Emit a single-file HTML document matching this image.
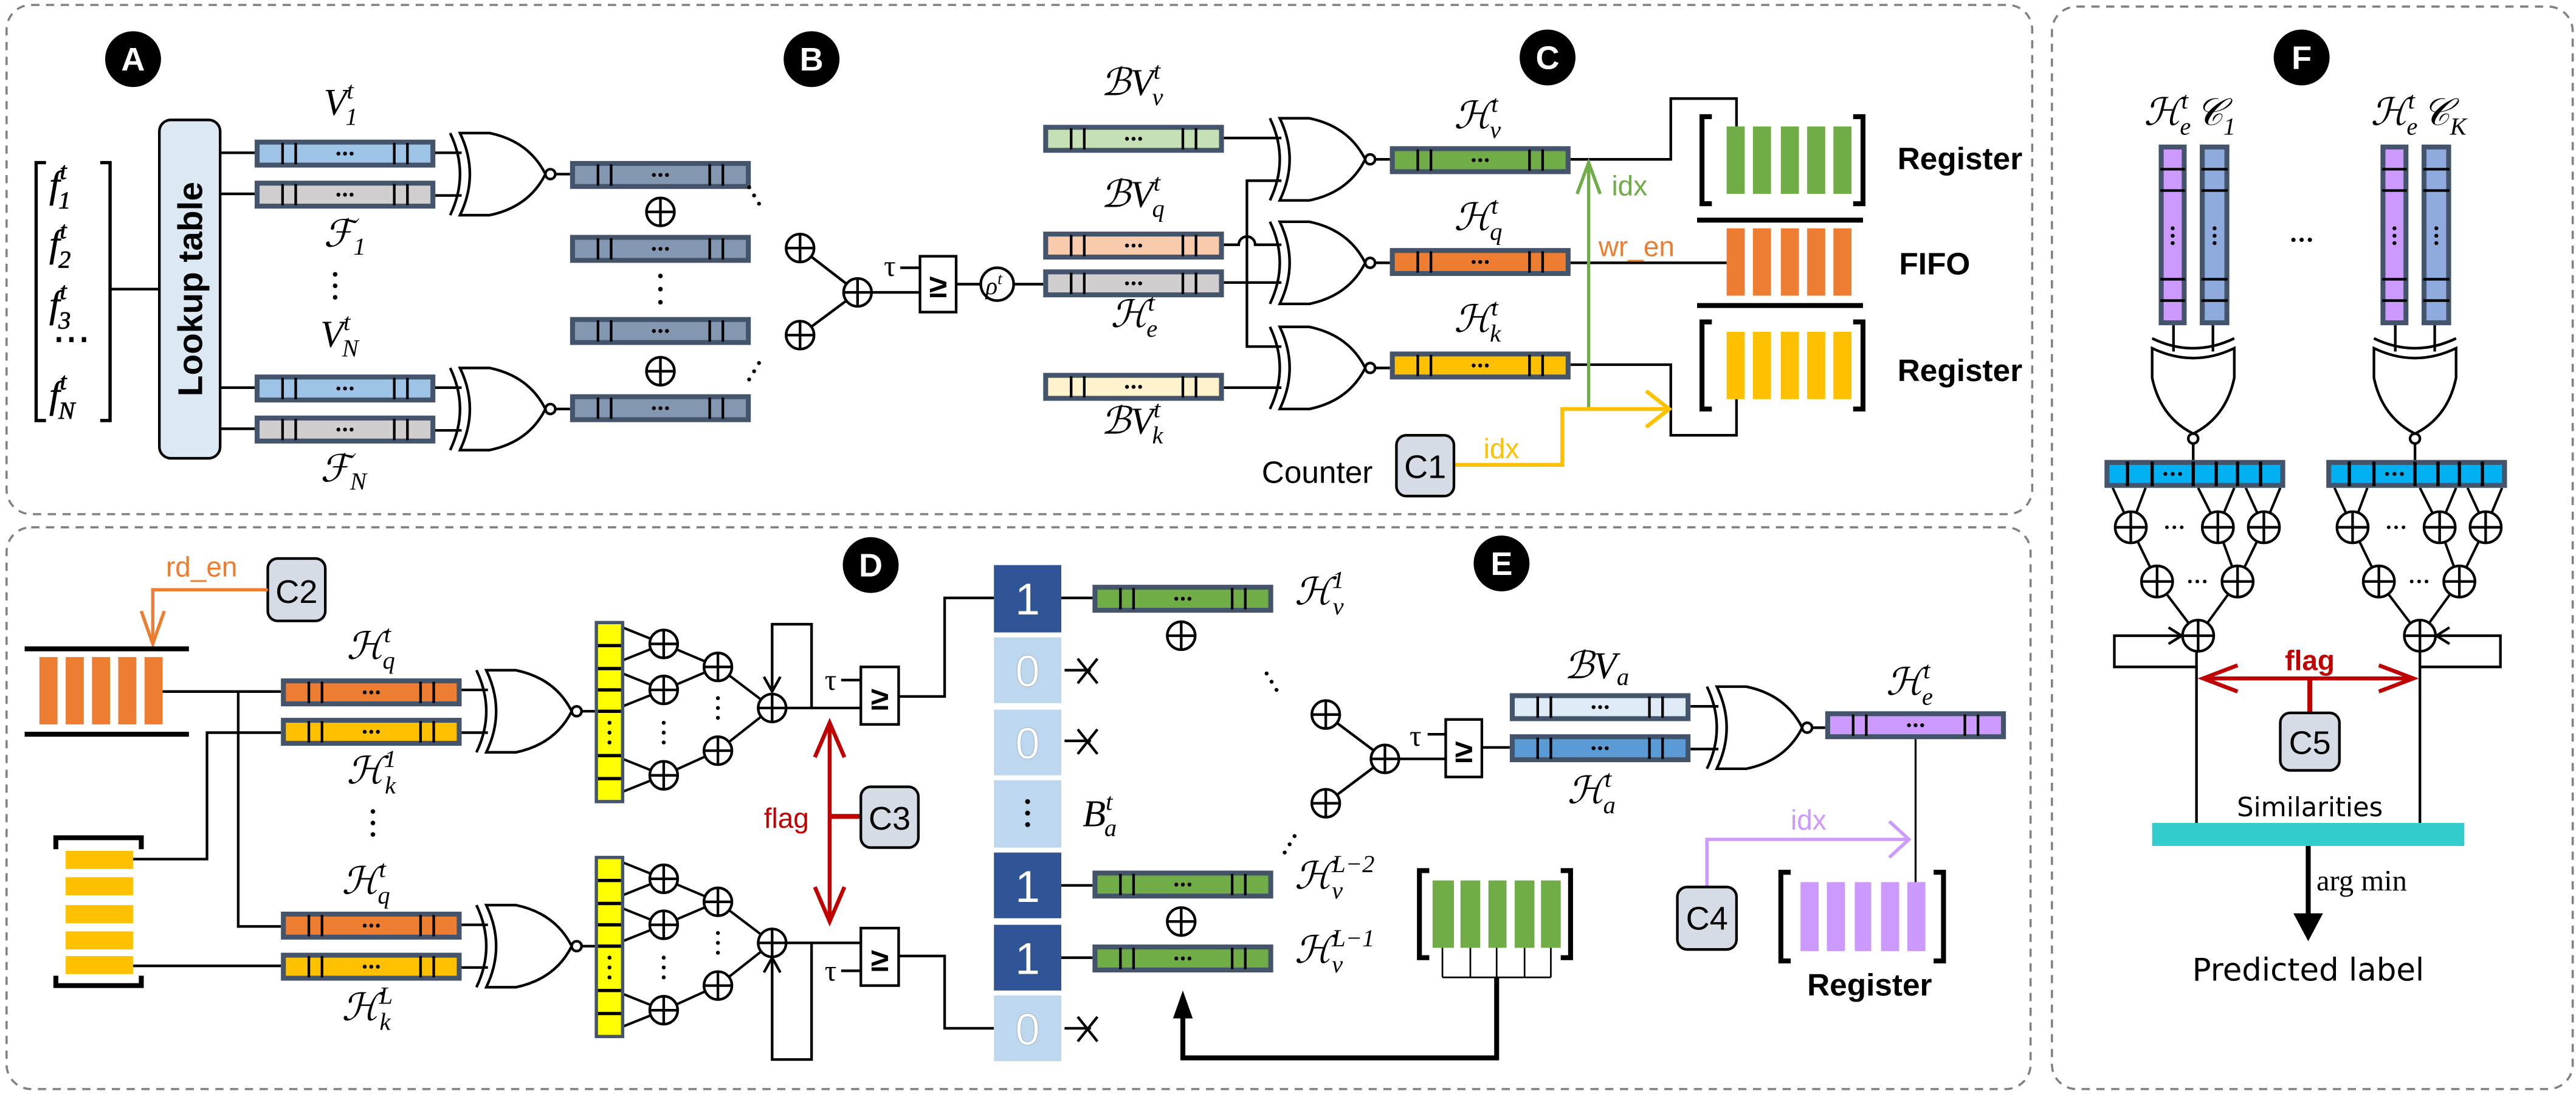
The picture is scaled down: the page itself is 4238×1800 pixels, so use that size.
<!DOCTYPE html>
<html><head><meta charset="utf-8">
<style>
html,body{margin:0;padding:0;background:#fff;}
svg{display:block;}
.m{font-family:"Liberation Serif","DejaVu Serif",serif;font-style:italic;font-size:23px;}
.m tspan{font-size:15px;}
.s{font-family:"Liberation Sans","DejaVu Sans",sans-serif;}
</style></head><body>
<svg width="4238" height="1800" viewBox="0 0 1568 666" preserveAspectRatio="none" xmlns="http://www.w3.org/2000/svg">
<defs>
<symbol id="bar" viewBox="0 0 110 17" width="110" height="17" overflow="visible">
<rect x="0" y="0" width="110" height="17" fill="#44546a"/>
<rect x="3" y="3" width="104" height="11"/>
<g stroke="#000" stroke-width="1.6"><line x1="17" y1="2" x2="17" y2="15"/><line x1="25" y1="2" x2="25" y2="15"/><line x1="85" y1="2" x2="85" y2="15"/><line x1="93" y1="2" x2="93" y2="15"/></g>
<g fill="#000"><circle cx="51" cy="8.5" r="1.2"/><circle cx="55" cy="8.5" r="1.2"/><circle cx="59" cy="8.5" r="1.2"/></g>
</symbol>
<g id="gate" stroke="#000" stroke-width="1.6">
<path d="M0,0 Q12,25 0,50" fill="none"/>
<path d="M6,0 L24,0 Q48,5 58,25 Q48,45 24,50 L6,50 Q18,25 6,0Z" fill="#fff"/>
<circle cx="61" cy="25" r="3" fill="#fff"/>
</g>
<g id="xo" stroke="#000" stroke-width="1.6"><circle r="8.5" fill="#fff"/><line x1="-8.5" y1="0" x2="8.5" y2="0"/><line x1="0" y1="-8.5" x2="0" y2="8.5"/></g>
<g id="xs" stroke="#000" stroke-width="1.6"><circle r="9.5" fill="#fff"/><line x1="-9.5" y1="0" x2="9.5" y2="0"/><line x1="0" y1="-9.5" x2="0" y2="9.5"/></g>
</defs>

<g fill="none" stroke="#808080" stroke-width="1.3" stroke-dasharray="5,4">
<rect x="4" y="3" width="1233" height="310" rx="15"/>
<rect x="4" y="321" width="1232" height="342" rx="15"/>
<rect x="1249" y="4" width="317" height="659" rx="15"/>
</g>

<g class="s" font-weight="bold" font-size="20" text-anchor="middle">
<circle cx="81" cy="36" r="17"/><text x="81" y="43" fill="#fff">A</text>
<circle cx="494" cy="36" r="17"/><text x="494" y="43" fill="#fff">B</text>
<circle cx="942" cy="35" r="17"/><text x="942" y="42" fill="#fff">C</text>
<circle cx="530" cy="344" r="17"/><text x="530" y="351" fill="#fff">D</text>
<circle cx="914" cy="343" r="17"/><text x="914" y="350" fill="#fff">E</text>
<circle cx="1401" cy="35" r="17"/><text x="1401" y="42" fill="#fff">F</text>
</g>

<!-- Panel A -->
<g stroke="#000" stroke-width="1.6" fill="none">
<path d="M28,99 H22 V256 H28" stroke-width="2"/><path d="M61,99 H67 V256 H61" stroke-width="2"/>
<line x1="67" y1="176" x2="97" y2="176"/>
<line x1="134" y1="93" x2="155" y2="93"/><line x1="134" y1="118" x2="155" y2="118"/>
<line x1="134" y1="236" x2="155" y2="236"/><line x1="134" y1="261" x2="155" y2="261"/>
<line x1="263" y1="93" x2="281" y2="93"/><line x1="263" y1="119" x2="281" y2="119"/>
<line x1="263" y1="236" x2="281" y2="236"/><line x1="263" y1="262" x2="281" y2="262"/>
<line x1="338" y1="106" x2="347" y2="106"/><line x1="338" y1="249" x2="347" y2="249"/>
</g>
<g class="m" font-size="24" stroke="#000" stroke-width="0.3">
<text x="30" y="120">f<tspan dy="-11">t</tspan><tspan dx="-5" dy="18">1</tspan></text>
<text x="30" y="156">f<tspan dy="-11">t</tspan><tspan dx="-5" dy="18">2</tspan></text>
<text x="30" y="193">f<tspan dy="-11">t</tspan><tspan dx="-5" dy="18">3</tspan></text>
<text x="32" y="214" font-style="normal">⋯</text>
<text x="30" y="248">f<tspan dy="-11">t</tspan><tspan dx="-5" dy="18">N</tspan></text>
</g>
<rect x="97" y="73" width="37" height="206" rx="7" fill="#dce9f5" stroke="#000" stroke-width="1.6"/>
<text class="s" font-weight="bold" font-size="21" text-anchor="middle" transform="translate(123,176) rotate(-90)">Lookup table</text>
<use href="#bar" x="155" y="85" fill="#9dc3e6"/>
<use href="#bar" x="155" y="110" fill="#d0cece"/>
<use href="#bar" x="155" y="228" fill="#9dc3e6"/>
<use href="#bar" x="155" y="253" fill="#d0cece"/>
<text class="m" x="197" y="70">V<tspan dy="-10">t</tspan><tspan dx="-5" dy="16">1</tspan></text>
<text class="m" x="197" y="150">ℱ<tspan dy="5">1</tspan></text>
<g fill="#000"><circle cx="204" cy="167" r="1.4"/><circle cx="204" cy="174" r="1.4"/><circle cx="204" cy="181" r="1.4"/></g>
<text class="m" x="195" y="211">V<tspan dy="-10">t</tspan><tspan dx="-5" dy="16">N</tspan></text>
<text class="m" x="195" y="293">ℱ<tspan dy="5">N</tspan></text>
<use href="#gate" x="274" y="81"/>
<use href="#gate" x="274" y="224"/>
<use href="#bar" x="347" y="98" fill="#8497b0"/>
<use href="#bar" x="347" y="143" fill="#8497b0"/>
<use href="#bar" x="347" y="193" fill="#8497b0"/>
<use href="#bar" x="347" y="240" fill="#8497b0"/>
<use href="#xo" x="402" y="129"/>
<use href="#xo" x="402" y="226"/>
<g fill="#000"><circle cx="402" cy="168" r="1.4"/><circle cx="402" cy="176" r="1.4"/><circle cx="402" cy="184" r="1.4"/>
<circle cx="456" cy="114" r="1.2"/><circle cx="459" cy="119" r="1.2"/><circle cx="462" cy="124" r="1.2"/>
<circle cx="456" cy="231" r="1.2"/><circle cx="459" cy="226" r="1.2"/><circle cx="462" cy="221" r="1.2"/></g>

<!-- Panel B -->
<g stroke="#000" stroke-width="1.6" fill="none">
<line x1="487" y1="151" x2="522" y2="178"/><line x1="487" y1="204" x2="522" y2="178"/>
<line x1="522" y1="178" x2="560" y2="178"/>
<line x1="548" y1="163" x2="560" y2="163"/>
<rect x="560" y="156" width="22" height="34" fill="#fff"/>
<line x1="582" y1="173" x2="597" y2="173"/>
<circle cx="607" cy="173" r="10" fill="#fff"/>
<line x1="617" y1="173" x2="635" y2="173"/>
</g>
<use href="#xo" x="487" y="151"/><use href="#xo" x="487" y="204"/><use href="#xo" x="522" y="178"/>
<text x="538" y="168" font-family="Liberation Serif,serif" font-size="18">τ</text>
<text class="s" x="571" y="181" font-size="20" font-weight="bold" text-anchor="middle">≥</text>
<text x="600" y="179" font-family="Liberation Serif,serif" font-style="italic" font-size="15">ρ<tspan font-size="10" dy="-6">t</tspan></text>

<!-- Panel C -->
<use href="#bar" x="635" y="76" fill="#c5e0b4"/>
<use href="#bar" x="635" y="141" fill="#f8cbad"/>
<use href="#bar" x="635" y="164" fill="#d0cece"/>
<use href="#bar" x="635" y="227" fill="#fff2cc"/>
<text class="m" x="670" y="58">ℬV<tspan dy="-10">t</tspan><tspan dx="-5" dy="16">v</tspan></text>
<text class="m" x="670" y="126">ℬV<tspan dy="-10">t</tspan><tspan dx="-5" dy="16">q</tspan></text>
<text class="m" x="676" y="199">ℋ<tspan dy="-10">t</tspan><tspan dx="-5" dy="16">e</tspan></text>
<text class="m" x="670" y="264">ℬV<tspan dy="-10">t</tspan><tspan dx="-5" dy="16">k</tspan></text>
<g stroke="#000" stroke-width="1.6" fill="none">
<line x1="745" y1="84" x2="780" y2="84"/>
<path d="M745,149 H754 A5,5 0 0 1 764,149 H780"/>
<line x1="745" y1="172" x2="780" y2="172"/>
<line x1="745" y1="236" x2="780" y2="236"/>
<path d="M780,110 H759 V211 H780"/>
<line x1="837" y1="97" x2="846" y2="97"/>
<line x1="837" y1="160" x2="846" y2="160"/>
<line x1="837" y1="224" x2="846" y2="224"/>
<path d="M956,97 H1017 V60 H1057 V77"/>
<line x1="956" y1="160" x2="1051" y2="160"/>
<path d="M956,222 H1017 V265 H1057 V243"/>
</g>
<use href="#gate" x="773" y="72"/>
<use href="#gate" x="773" y="135"/>
<use href="#gate" x="773" y="199"/>
<use href="#bar" x="846" y="89" fill="#70ad47"/>
<use href="#bar" x="846" y="151" fill="#ed7d31"/>
<use href="#bar" x="846" y="214" fill="#ffc000"/>
<text class="m" x="885" y="78">ℋ<tspan dy="-10">t</tspan><tspan dx="-5" dy="16">v</tspan></text>
<text class="m" x="885" y="140">ℋ<tspan dy="-10">t</tspan><tspan dx="-5" dy="16">q</tspan></text>
<text class="m" x="885" y="202">ℋ<tspan dy="-10">t</tspan><tspan dx="-5" dy="16">k</tspan></text>
<g stroke="#000" stroke-width="3" fill="none">
<path d="M1042,71 H1036 V124 H1042"/><path d="M1128,71 H1134 V124 H1128"/>
<line x1="1033" y1="134" x2="1134" y2="134"/><line x1="1033" y1="186" x2="1134" y2="186"/>
<path d="M1042,196 H1036 V249 H1042"/><path d="M1128,196 H1134 V249 H1128"/>
</g>
<g fill="#70ad47"><rect x="1051" y="77" width="11" height="41"/><rect x="1067" y="77" width="11" height="41"/><rect x="1084" y="77" width="11" height="41"/><rect x="1100" y="77" width="11" height="41"/><rect x="1116" y="77" width="11" height="41"/></g>
<g fill="#ed7d31"><rect x="1051" y="139" width="11" height="41"/><rect x="1067" y="139" width="11" height="41"/><rect x="1084" y="139" width="11" height="41"/><rect x="1100" y="139" width="11" height="41"/><rect x="1116" y="139" width="11" height="41"/></g>
<g fill="#ffc000"><rect x="1051" y="202" width="11" height="41"/><rect x="1067" y="202" width="11" height="41"/><rect x="1084" y="202" width="11" height="41"/><rect x="1100" y="202" width="11" height="41"/><rect x="1116" y="202" width="11" height="41"/></g>
<g class="s" font-weight="bold" font-size="19">
<text x="1155" y="103">Register</text><text x="1156" y="167">FIFO</text><text x="1155" y="232">Register</text>
</g>
<g fill="none" stroke-width="2">
<line x1="967" y1="249" x2="967" y2="99" stroke="#70ad47"/>
<polyline points="960,118 967,99 974,118" stroke="#70ad47"/>
<polyline points="885,283 951,283 951,249 1016,249" stroke="#ffc000" stroke-width="2.4"/>
<polyline points="1002,238 1016,249 1002,260" stroke="#ffc000" stroke-width="2.4"/>
</g>
<g class="s" font-size="17">
<text x="981" y="119" fill="#70ad47">idx</text>
<text x="973" y="156" fill="#ed7d31">wr_en</text>
<text x="903" y="279" fill="#ffc000">idx</text>
<text x="768" y="294" fill="#000" font-size="19">Counter</text>
</g>
<rect x="850" y="265" width="35" height="37" rx="6" fill="#d6dce5" stroke="#000" stroke-width="1.6"/>
<text class="s" x="867.5" y="291" font-size="20" text-anchor="middle">C1</text>

<!-- Panel D -->
<rect x="163" y="340" width="35" height="38" rx="6" fill="#d6dce5" stroke="#000" stroke-width="1.6"/>
<text class="s" x="180.5" y="367" font-size="20" text-anchor="middle">C2</text>
<text class="s" x="101" y="351" font-size="17" fill="#ed7d31">rd_en</text>
<g fill="none" stroke="#ed7d31" stroke-width="2">
<polyline points="163,359 93,359 93,392"/><polyline points="86,372 93,392 100,372"/>
</g>
<g stroke="#000" stroke-width="3"><line x1="15" y1="395" x2="115" y2="395"/><line x1="15" y1="447" x2="115" y2="447"/></g>
<g fill="#ed7d31"><rect x="24" y="400" width="11" height="41"/><rect x="40" y="400" width="11" height="41"/><rect x="56" y="400" width="11" height="41"/><rect x="72" y="400" width="11" height="41"/><rect x="88" y="400" width="11" height="41"/></g>
<g stroke="#000" stroke-width="3" fill="none">
<path d="M34,517 V510 H86 V517"/><path d="M34,594 V600 H86 V594"/>
</g>
<g fill="#ffc000"><rect x="40" y="518" width="41" height="11"/><rect x="40" y="534" width="41" height="11"/><rect x="40" y="551" width="41" height="11"/><rect x="40" y="567" width="41" height="11"/><rect x="40" y="582" width="41" height="11"/></g>
<g stroke="#000" stroke-width="1.6" fill="none">
<path d="M99,421 H171"/><path d="M145,421 V564 H171"/>
<path d="M81,523 H126 V446 H171"/>
<path d="M81,588 H171"/>
<line x1="280" y1="420" x2="297" y2="420"/><line x1="280" y1="446" x2="297" y2="446"/>
<line x1="280" y1="563" x2="297" y2="563"/><line x1="280" y1="589" x2="297" y2="589"/>
<line x1="354" y1="433" x2="363" y2="433"/><line x1="354" y1="576" x2="363" y2="576"/>
</g>
<use href="#bar" x="171" y="413" fill="#ed7d31"/>
<use href="#bar" x="171" y="437" fill="#ffc000"/>
<use href="#bar" x="171" y="555" fill="#ed7d31"/>
<use href="#bar" x="171" y="580" fill="#ffc000"/>
<text class="m" x="211" y="401">ℋ<tspan dy="-10">t</tspan><tspan dx="-5" dy="16">q</tspan></text>
<text class="m" x="211" y="477">ℋ<tspan dy="-10">1</tspan><tspan dx="-7" dy="16">k</tspan></text>
<g fill="#000"><circle cx="227" cy="494" r="1.4"/><circle cx="227" cy="501" r="1.4"/><circle cx="227" cy="508" r="1.4"/></g>
<text class="m" x="208" y="544">ℋ<tspan dy="-10">t</tspan><tspan dx="-5" dy="16">q</tspan></text>
<text class="m" x="208" y="621">ℋ<tspan dy="-10">L</tspan><tspan dx="-8" dy="16">k</tspan></text>
<use href="#gate" x="290" y="408"/>
<use href="#gate" x="290" y="551"/>
<g id="treeD">
<g stroke="#000" stroke-width="1.5" fill="none">
<line x1="379" y1="382" x2="404" y2="392"/><line x1="379" y1="402" x2="404" y2="392"/>
<line x1="379" y1="410" x2="404" y2="420"/><line x1="379" y1="430" x2="404" y2="420"/>
<line x1="379" y1="462" x2="404" y2="472"/><line x1="379" y1="482" x2="404" y2="472"/>
<line x1="404" y1="392" x2="437" y2="406"/><line x1="404" y1="420" x2="437" y2="406"/>
<line x1="404" y1="472" x2="437" y2="457"/>
<line x1="437" y1="406" x2="470" y2="431"/><line x1="437" y1="457" x2="470" y2="431"/>
</g>
<rect x="363" y="379" width="16" height="109" fill="#ffff00" stroke="#44546a" stroke-width="2"/>
<g stroke="#000" stroke-width="2"><line x1="364" y1="393" x2="378" y2="393"/><line x1="364" y1="407" x2="378" y2="407"/><line x1="364" y1="420" x2="378" y2="420"/><line x1="364" y1="433" x2="378" y2="433"/><line x1="364" y1="460" x2="378" y2="460"/><line x1="364" y1="474" x2="378" y2="474"/></g>
<g fill="#000"><circle cx="371" cy="440" r="1.2"/><circle cx="371" cy="446" r="1.2"/><circle cx="371" cy="452" r="1.2"/>
<circle cx="404" cy="440" r="1.2"/><circle cx="404" cy="446" r="1.2"/><circle cx="404" cy="452" r="1.2"/>
<circle cx="437" cy="425" r="1.2"/><circle cx="437" cy="431" r="1.2"/><circle cx="437" cy="437" r="1.2"/></g>
<use href="#xo" x="404" y="392"/><use href="#xo" x="404" y="420"/><use href="#xo" x="404" y="472"/>
<use href="#xo" x="437" y="406"/><use href="#xo" x="437" y="457"/>
</g>
<use href="#treeD" transform="translate(0,143)"/>
<g stroke="#000" stroke-width="1.6" fill="none">
<path d="M470,431 H524"/><path d="M470,420 V380 H494 V431"/>
<polyline points="465,412 470,421 475,412"/>
<path d="M470,574 H524"/><path d="M494,574 V645 H470 V583"/>
<polyline points="465,592 470,583 475,592"/>
<line x1="512" y1="414" x2="524" y2="414"/><line x1="512" y1="591" x2="524" y2="591"/>
<rect x="524" y="406" width="23" height="35" fill="#fff"/>
<rect x="524" y="565" width="23" height="35" fill="#fff"/>
<path d="M547,424 H575 V364 H605"/><path d="M547,582 H575 V626 H605"/>
</g>
<use href="#xo" x="470" y="431"/><use href="#xo" x="470" y="574"/>
<text x="502" y="420" font-family="Liberation Serif,serif" font-size="18">τ</text>
<text x="502" y="597" font-family="Liberation Serif,serif" font-size="18">τ</text>
<text class="s" x="535.5" y="432" font-size="20" font-weight="bold" text-anchor="middle">≥</text>
<text class="s" x="535.5" y="591" font-size="20" font-weight="bold" text-anchor="middle">≥</text>
<g stroke="#c00000" stroke-width="2.4" fill="none">
<line x1="505" y1="440" x2="505" y2="561"/>
<polyline points="496,461 505,440 514,461"/><polyline points="496,540 505,561 514,540"/>
<line x1="505" y1="497" x2="524" y2="497" stroke-width="3"/>
</g>
<text class="s" x="465" y="504" font-size="17" fill="#c00000">flag</text>
<rect x="524" y="479" width="35" height="37" rx="6" fill="#d6dce5" stroke="#000" stroke-width="1.6"/>
<text class="s" x="541.5" y="505" font-size="20" text-anchor="middle">C3</text>
<g>
<rect x="605" y="344" width="41" height="41" fill="#2f5597"/>
<rect x="605" y="388" width="41" height="40" fill="#bdd7ee"/>
<rect x="605" y="432" width="41" height="40" fill="#bdd7ee"/>
<rect x="605" y="475" width="41" height="41" fill="#bdd7ee"/>
<rect x="605" y="519" width="41" height="40" fill="#2f5597"/>
<rect x="605" y="563" width="41" height="40" fill="#2f5597"/>
<rect x="605" y="606" width="41" height="40" fill="#bdd7ee"/>
</g>
<g class="s" font-size="27" fill="#fff" text-anchor="middle">
<text x="625.5" y="374">1</text><text x="625.5" y="418" stroke="#9fb6cc" stroke-width="0.4">0</text><text x="625.5" y="462" stroke="#9fb6cc" stroke-width="0.4">0</text>
<text x="625.5" y="549">1</text><text x="625.5" y="593">1</text><text x="625.5" y="636" stroke="#9fb6cc" stroke-width="0.4">0</text>
</g>
<g fill="#000"><circle cx="625.5" cy="488" r="1.5"/><circle cx="625.5" cy="495" r="1.5"/><circle cx="625.5" cy="502" r="1.5"/></g>
<g stroke="#000" stroke-width="1.6" fill="none">
<line x1="646" y1="364" x2="665" y2="364"/><line x1="646" y1="539" x2="665" y2="539"/><line x1="646" y1="583" x2="665" y2="583"/>
<line x1="648" y1="408" x2="664" y2="408"/><line x1="656" y1="401" x2="668" y2="416"/><line x1="668" y1="401" x2="656" y2="416"/>
<line x1="648" y1="451" x2="664" y2="451"/><line x1="656" y1="444" x2="668" y2="459"/><line x1="668" y1="444" x2="656" y2="459"/>
<line x1="648" y1="626" x2="664" y2="626"/><line x1="656" y1="619" x2="668" y2="634"/><line x1="668" y1="619" x2="656" y2="634"/>
</g>
<use href="#bar" x="665" y="356" fill="#70ad47"/>
<use href="#bar" x="665" y="530" fill="#70ad47"/>
<use href="#bar" x="665" y="575" fill="#70ad47"/>
<use href="#xo" x="719" y="387"/><use href="#xo" x="719" y="561"/>
<text class="m" x="659" y="503">B<tspan dy="-10">t</tspan><tspan dx="-5" dy="16">a</tspan></text>
<text class="m" x="788" y="368">ℋ<tspan dy="-10">1</tspan><tspan dx="-7" dy="16">v</tspan></text>
<text class="m" x="788" y="541">ℋ<tspan dy="-10">L−2</tspan><tspan dx="-26" dy="16">v</tspan></text>
<text class="m" x="788" y="586">ℋ<tspan dy="-10">L−1</tspan><tspan dx="-26" dy="16">v</tspan></text>
<g fill="#000"><circle cx="771" cy="410" r="1.2"/><circle cx="774" cy="415" r="1.2"/><circle cx="777" cy="420" r="1.2"/>
<circle cx="782" cy="519" r="1.2"/><circle cx="785" cy="514" r="1.2"/><circle cx="788" cy="509" r="1.2"/></g>
<g stroke="#000" stroke-width="3" fill="none">
<path d="M870,530 H864 V583 H870"/><path d="M950,530 H956 V583 H950"/>
</g>
<g fill="#70ad47"><rect x="872" y="536" width="13" height="41"/><rect x="889" y="536" width="12" height="41"/><rect x="906" y="536" width="11" height="41"/><rect x="922" y="536" width="12" height="41"/><rect x="938" y="536" width="12" height="41"/></g>
<g stroke="#000" stroke-width="1" fill="none">
<line x1="878" y1="577" x2="878" y2="595"/><line x1="895" y1="577" x2="895" y2="595"/><line x1="911" y1="577" x2="911" y2="595"/><line x1="928" y1="577" x2="928" y2="595"/><line x1="944" y1="577" x2="944" y2="595"/>
<line x1="878" y1="595" x2="944" y2="595"/>
</g>
<polyline points="911,595 911,644 720,644 720,618" fill="none" stroke="#000" stroke-width="3"/>
<polygon points="714,620 720,603 726,620" fill="#000"/>

<!-- Panel E -->
<g stroke="#000" stroke-width="1.6" fill="none">
<line x1="807" y1="435" x2="843" y2="462"/><line x1="807" y1="489" x2="843" y2="462"/>
<line x1="843" y1="462" x2="880" y2="462"/>
<line x1="869" y1="447" x2="880" y2="447"/>
<rect x="880" y="438" width="22" height="35" fill="#fff"/>
<line x1="902" y1="455" x2="919" y2="455"/>
<line x1="1029" y1="430" x2="1046" y2="430"/><line x1="1029" y1="456" x2="1046" y2="456"/>
<line x1="1103" y1="443" x2="1111" y2="443"/>
</g>
<use href="#xo" x="807" y="435"/><use href="#xo" x="807" y="489"/><use href="#xo" x="843" y="462"/>
<text x="858" y="454" font-family="Liberation Serif,serif" font-size="18">τ</text>
<text class="s" x="891" y="464" font-size="20" font-weight="bold" text-anchor="middle">≥</text>
<use href="#bar" x="919" y="422" fill="#deebf7"/>
<use href="#bar" x="919" y="447" fill="#5b9bd5"/>
<use href="#gate" x="1039" y="418"/>
<use href="#bar" x="1111" y="433" fill="#cc99ff"/>
<text class="m" x="952" y="413">ℬV<tspan dy="4">a</tspan></text>
<text class="m" x="954" y="489">ℋ<tspan dy="-10">t</tspan><tspan dx="-5" dy="16">a</tspan></text>
<text class="m" x="1148" y="423">ℋ<tspan dy="-10">t</tspan><tspan dx="-5" dy="16">e</tspan></text>
<g stroke="#000" stroke-width="3" fill="none">
<path d="M1090,531 H1084 V585 H1090"/><path d="M1177,531 H1183 V585 H1177"/>
</g>
<g fill="#cc99ff"><rect x="1096" y="537" width="11" height="42"/><rect x="1112" y="537" width="11" height="42"/><rect x="1129" y="537" width="10" height="42"/><rect x="1145" y="537" width="11" height="42"/><rect x="1161" y="537" width="11" height="42"/></g>
<line x1="1166" y1="450" x2="1166" y2="537" stroke="#000" stroke-width="1.2"/>
<text class="s" x="1100" y="606" font-size="19" font-weight="bold">Register</text>
<g fill="none" stroke="#cc99ff" stroke-width="2">
<polyline points="1039,540 1039,511 1162,511"/><polyline points="1150,500 1162,511 1150,522"/>
</g>
<text class="s" x="1090" y="505" font-size="17" fill="#cc99ff">idx</text>
<rect x="1021" y="540" width="36" height="38" rx="6" fill="#d6dce5" stroke="#000" stroke-width="1.6"/>
<text class="s" x="1039" y="566" font-size="20" text-anchor="middle">C4</text>

<!-- Panel F -->
<text class="m" x="1305" y="76">ℋ<tspan dy="-10">t</tspan><tspan dx="-5" dy="16">e</tspan><tspan dy="-6" dx="3" style="font-size:23px">𝒞</tspan><tspan dy="6">1</tspan></text>
<text class="m" x="1443" y="76">ℋ<tspan dy="-10">t</tspan><tspan dx="-5" dy="16">e</tspan><tspan dy="-6" dx="3" style="font-size:23px">𝒞</tspan><tspan dy="6">K</tspan></text>
<g id="fcol">
<rect x="1314" y="88" width="17" height="110" fill="#44546a"/>
<rect x="1317" y="91" width="11" height="104" fill="#cc99ff"/>
<rect x="1339" y="88" width="18" height="110" fill="#44546a"/>
<rect x="1342" y="91" width="12" height="104" fill="#8faadc"/>
<g stroke="#000" stroke-width="1.6">
<line x1="1315" y1="103" x2="1330" y2="103"/><line x1="1315" y1="116" x2="1330" y2="116"/><line x1="1315" y1="170" x2="1330" y2="170"/><line x1="1315" y1="183" x2="1330" y2="183"/>
<line x1="1340" y1="103" x2="1356" y2="103"/><line x1="1340" y1="116" x2="1356" y2="116"/><line x1="1340" y1="170" x2="1356" y2="170"/><line x1="1340" y1="183" x2="1356" y2="183"/>
</g>
<g fill="#000"><circle cx="1322.5" cy="139" r="1.2"/><circle cx="1322.5" cy="143.5" r="1.2"/><circle cx="1322.5" cy="148" r="1.2"/>
<circle cx="1348" cy="139" r="1.2"/><circle cx="1348" cy="143.5" r="1.2"/><circle cx="1348" cy="148" r="1.2"/></g>
<g stroke="#000" stroke-width="1.6"><line x1="1323" y1="198" x2="1323" y2="214"/><line x1="1347" y1="198" x2="1347" y2="214"/></g>
<use href="#gate" transform="translate(1360,206) rotate(90)"/>
<line x1="1335" y1="270" x2="1335" y2="281" stroke="#000" stroke-width="1.6"/>
<g stroke="#000" stroke-width="1.5" fill="none">
<line x1="1286" y1="297" x2="1297" y2="321"/><line x1="1306" y1="297" x2="1297" y2="321"/>
<line x1="1338" y1="297" x2="1350" y2="321"/><line x1="1360" y1="297" x2="1350" y2="321"/>
<line x1="1367" y1="297" x2="1378" y2="321"/><line x1="1388" y1="297" x2="1378" y2="321"/>
<line x1="1297" y1="321" x2="1313" y2="354"/><line x1="1350" y1="321" x2="1362" y2="354"/><line x1="1378" y1="321" x2="1362" y2="354"/>
<line x1="1313" y1="354" x2="1338" y2="387"/><line x1="1362" y1="354" x2="1338" y2="387"/>
</g>
<rect x="1281" y="280" width="110" height="17" fill="#44546a"/>
<rect x="1284" y="283" width="104" height="11" fill="#00b0f0"/>
<g stroke="#000" stroke-width="2"><line x1="1295" y1="281" x2="1295" y2="296"/><line x1="1310" y1="281" x2="1310" y2="296"/><line x1="1335" y1="281" x2="1335" y2="296"/><line x1="1349" y1="281" x2="1349" y2="296"/><line x1="1362" y1="281" x2="1362" y2="296"/><line x1="1376" y1="281" x2="1376" y2="296"/></g>
<g fill="#000"><circle cx="1318" cy="288.5" r="1.2"/><circle cx="1322.5" cy="288.5" r="1.2"/><circle cx="1327" cy="288.5" r="1.2"/>
<circle cx="1319" cy="321" r="1.1"/><circle cx="1323.5" cy="321" r="1.1"/><circle cx="1328" cy="321" r="1.1"/>
<circle cx="1333" cy="354" r="1.1"/><circle cx="1337.5" cy="354" r="1.1"/><circle cx="1342" cy="354" r="1.1"/></g>
<use href="#xs" x="1297" y="321"/><use href="#xs" x="1350" y="321"/><use href="#xs" x="1378" y="321"/>
<use href="#xs" x="1313" y="354"/><use href="#xs" x="1362" y="354"/><use href="#xs" x="1338" y="387"/>
</g>
<use href="#fcol" transform="translate(135,0)"/>
<g fill="#000"><circle cx="1396" cy="146" r="1.3"/><circle cx="1401" cy="146" r="1.3"/><circle cx="1406" cy="146" r="1.3"/></g>
<g stroke="#000" stroke-width="1.6" fill="none">
<path d="M1328,387 H1287 V406 H1337"/><polyline points="1320,382 1328,387 1320,392"/>
<path d="M1483,387 H1522 V406 H1473"/><polyline points="1491,382 1483,387 1491,392"/>
<line x1="1337" y1="397" x2="1337" y2="501"/><line x1="1473" y1="397" x2="1473" y2="501"/>
</g>
<g stroke="#c00000" stroke-width="2.4" fill="none">
<line x1="1341" y1="413" x2="1469" y2="413"/>
<polyline points="1362,405 1341,413 1362,421"/><polyline points="1448,405 1469,413 1448,421"/>
<line x1="1406" y1="413" x2="1406" y2="434" stroke-width="3"/>
</g>
<text class="s" x="1406" y="408" font-size="17" fill="#c00000" font-weight="bold" text-anchor="middle">flag</text>
<rect x="1388" y="434" width="36" height="35" rx="6" fill="#d6dce5" stroke="#000" stroke-width="1.6"/>
<text class="s" x="1406" y="459" font-size="20" text-anchor="middle">C5</text>
<text x="1406" y="497" font-family="DejaVu Sans,sans-serif" font-size="16" text-anchor="middle">Similarities</text>
<rect x="1310" y="501" width="190" height="14" fill="#33cccc"/>
<line x1="1405" y1="515" x2="1405" y2="558" stroke="#000" stroke-width="3"/>
<polygon points="1396,556 1414,556 1405,573" fill="#000"/>
<text x="1410" y="542" font-family="Liberation Serif,serif" font-size="18">arg min</text>
<text x="1405" y="597" font-family="DejaVu Sans,sans-serif" font-size="19" text-anchor="middle">Predicted label</text>
</svg>
</body></html>
